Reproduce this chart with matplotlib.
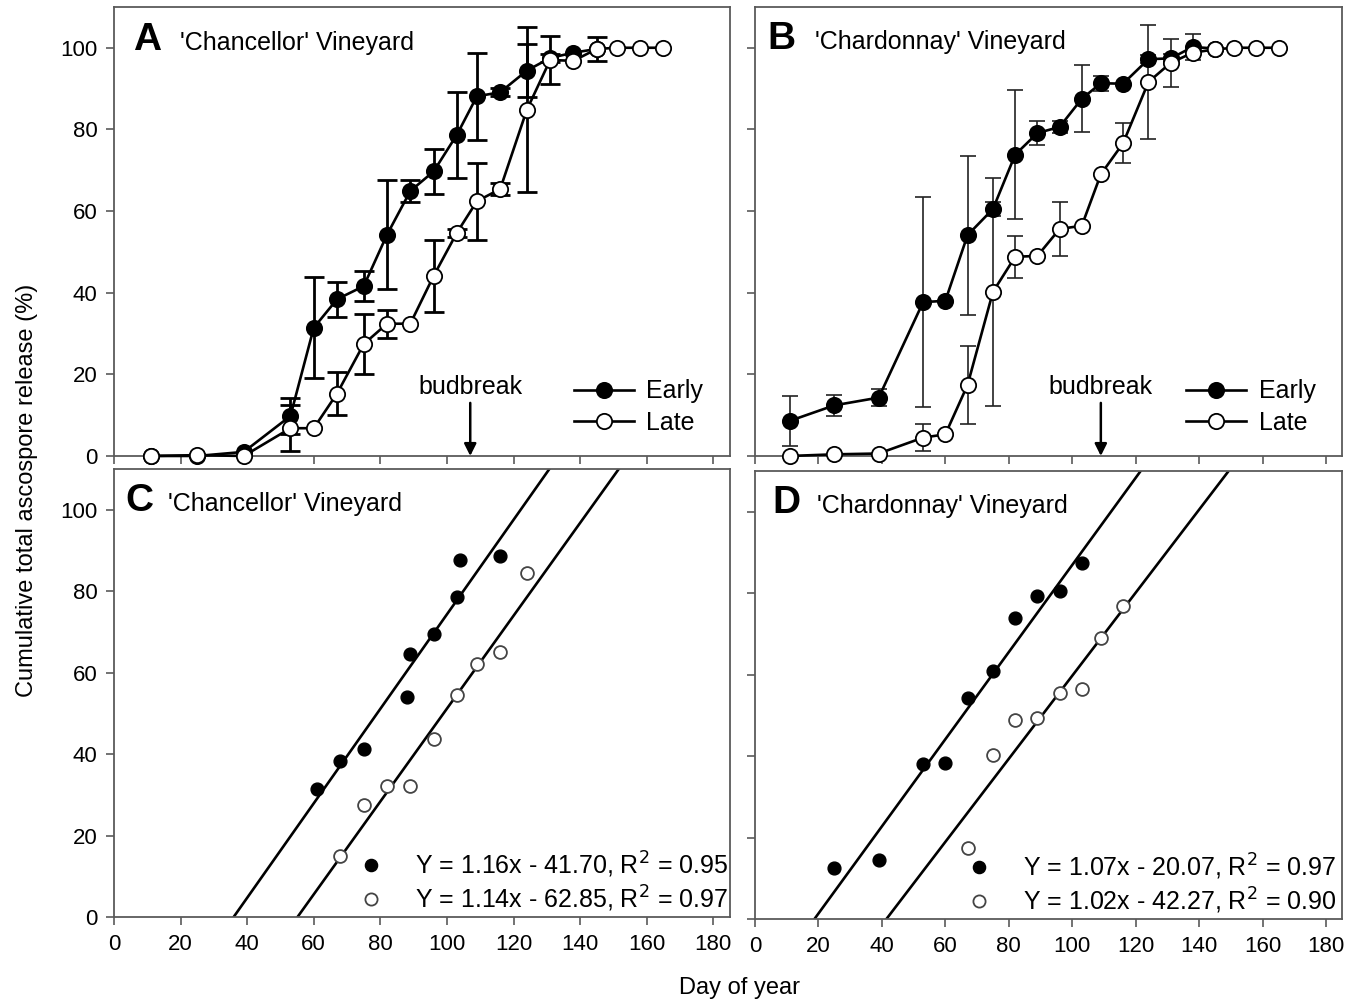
import numpy as np
import matplotlib
matplotlib.use("Agg")
from matplotlib import pyplot as plt

plt.rcParams['font.family'] = ['Liberation Sans', 'DejaVu Sans']

# sampling days (day of year)
days_early = [11, 25, 39, 53, 60, 67, 75, 82, 89, 96, 103, 109, 116, 124, 131, 138, 145]
days_late = [11, 25, 39, 53, 60, 67, 75, 82, 89, 96, 103, 109, 116, 124, 131, 138, 145, 151, 158, 165]

# A: Chancellor, cumulative release (%) and error
chan_early = [0, 0, 1.0, 9.8, 31.4, 38.4, 41.6, 54.2, 64.9, 69.7, 78.7, 88.1, 89.1, 94.4, 97.5, 98.8, 99.7]
chan_early_err = [0, 0, 0, 4.3, 12.4, 4.3, 3.6, 13.4, 2.6, 5.6, 10.5, 10.7, 1.0, 6.5, 1.0, 0.5, 0.5]
chan_late = [0, 0.2, 0, 6.8, 6.8, 15.3, 27.4, 32.4, 32.4, 44.1, 54.7, 62.4, 65.4, 84.8, 97.0, 96.8, 99.7, 100, 100, 100]
chan_late_err = [0, 0, 0, 5.7, 0, 5.3, 7.3, 3.4, 0, 8.8, 1.0, 9.4, 1.5, 20.2, 6.0, 0.5, 3.0, 0, 0, 0]

# B: Chardonnay
chard_early = [8.6, 12.4, 14.3, 37.7, 38.0, 54.1, 60.5, 73.8, 79.1, 80.6, 87.5, 91.3, 91.2, 97.2, 97.4, 100.2, 99.8]
chard_early_err = [6.2, 2.6, 2.0, 25.8, 0.5, 19.5, 1.6, 15.8, 3.0, 1.5, 8.2, 1.8, 0.5, 1.0, 1.0, 3.2, 0.5]
chard_late = [0, 0.4, 0.6, 4.5, 5.3, 17.4, 40.2, 48.8, 49.0, 55.6, 56.4, 69.0, 76.6, 91.6, 96.3, 98.8, 99.6, 100, 100, 100]
chard_late_err = [0, 0, 0, 3.3, 0.5, 9.6, 27.9, 5.2, 0, 6.5, 0.5, 0.5, 4.9, 14.0, 5.8, 0.5, 0.5, 0, 0, 0]

# C / D: points used in regressions
c_early_days = [61, 68, 75, 88, 89, 96, 103, 104, 116]
c_early_vals = [31.3, 38.3, 41.2, 54.0, 64.6, 69.4, 78.5, 87.7, 88.7]
c_late_days = [68, 75, 82, 89, 96, 103, 109, 116, 124]
c_late_vals = [15.0, 27.5, 32.2, 32.2, 43.8, 54.4, 62.2, 65.0, 84.5]
d_early_days = [25, 39, 53, 60, 67, 75, 82, 89, 96, 103]
d_early_vals = [12.5, 14.5, 38.0, 38.3, 54.3, 60.9, 73.8, 79.2, 80.5, 87.3]
d_late_days = [67, 75, 82, 89, 96, 103, 109, 116]
d_late_vals = [17.4, 40.2, 48.8, 49.4, 55.6, 56.5, 69.0, 76.8]

# regression coefficients (slope, intercept, R2)
c_fit_early = (1.16, -41.70, 0.95)
c_fit_late = (1.14, -62.85, 0.97)
d_fit_early = (1.07, -20.07, 0.97)
d_fit_late = (1.02, -42.27, 0.90)

budbreak_chan = 107
budbreak_chard = 109

SPINE = '#5a5a5a'

fig = plt.figure(figsize=(13.52, 10.05), dpi=100)
axA = fig.add_axes([0.0843, 0.5463, 0.4556, 0.4468])
axB = fig.add_axes([0.5584, 0.5463, 0.4342, 0.4468])
axC = fig.add_axes([0.0843, 0.0876, 0.4556, 0.4458])
axD = fig.add_axes([0.5584, 0.0856, 0.4342, 0.4458])

for ax in (axA, axB, axC, axD):
    ax.set_xlim(0, 185)
    ax.set_ylim(0, 110)
    ax.set_xticks(range(0, 181, 20))
    ax.set_yticks(range(0, 101, 20))
    for s in ax.spines.values():
        s.set_color(SPINE)
        s.set_linewidth(1.3)
    ax.tick_params(direction='out', length=6, width=1.2, color=SPINE,
                   labelsize=16, pad=6)

for ax in (axA, axB):
    ax.tick_params(labelbottom=False)
for ax in (axB, axD):
    ax.tick_params(labelleft=False)


def top_panel(ax, early, early_err, late, late_err, elw, ecol, cap):
    for d, v, e in ((days_early, early, early_err), (days_late, late, late_err)):
        d = np.array(d); v = np.array(v); e = np.array(e)
        m = e > 0.8
        ax.errorbar(d[m], v[m], yerr=e[m], fmt='none', ecolor=ecol,
                    elinewidth=elw, capsize=cap, capthick=elw, zorder=2)
    ax.plot(days_early, early, '-o', color='k', mfc='k', mec='k', ms=11,
            lw=1.9, mew=1.3, zorder=3, clip_on=False, label='Early')
    ax.plot(days_late, late, '-o', color='k', mfc='white', mec='k', ms=11,
            lw=1.9, mew=1.3, zorder=4, clip_on=False, label='Late')


top_panel(axA, chan_early, chan_early_err, chan_late, chan_late_err, 2.0, 'k', 7)
top_panel(axB, chard_early, chard_early_err, chard_late, chard_late_err, 1.2, '#222222', 6)

for ax, bb in ((axA, budbreak_chan), (axB, budbreak_chard)):
    ax.annotate('', xy=(bb, 0), xytext=(bb, 13),
                arrowprops=dict(arrowstyle='-|>', color='k', lw=1.8,
                                mutation_scale=18, shrinkA=0, shrinkB=0))
    ax.text(bb, 15.2, 'budbreak', ha='center', va='baseline', fontsize=18)
    ax.legend(loc='lower right', bbox_to_anchor=(0.985, 0.008), frameon=False,
              fontsize=18, handlelength=2.4, handletextpad=0.5, labelspacing=0.3,
              borderpad=0.2)


def bottom_panel(ax, ed, ev, ld, lv, fe, fl, xshift):
    x = np.array([0, 185])
    for slope, icpt, _ in (fe, fl):
        ax.plot(x, slope * x + icpt, color='k', lw=1.9, zorder=2)
    h1 = ax.scatter(ed, ev, s=85, c='k', zorder=3)
    h2 = ax.scatter(ld, lv, s=85, facecolors='white', edgecolors='#444444',
                    linewidths=1.3, zorder=3)
    labs = ['Y = %.2fx - %.2f, R$^2$ = %.2f' % (s, -i, r) for s, i, r in (fe, fl)]
    ax.legend([h1, h2], labs, loc='lower right', bbox_to_anchor=(xshift, -0.035),
              frameon=False, fontsize=18, handletextpad=0.76, labelspacing=0.15,
              borderpad=0.25, scatterpoints=1, scatteryoffsets=[0.5],
              markerscale=0.95)


bottom_panel(axC, c_early_days, c_early_vals, c_late_days, c_late_vals,
             c_fit_early, c_fit_late, 1.028)
bottom_panel(axD, d_early_days, d_early_vals, d_late_days, d_late_vals,
             d_fit_early, d_fit_late, 1.022)

panels = [(axA, 'A', "'Chancellor' Vineyard", 0.031, 0.107, 0.904),
          (axB, 'B', "'Chardonnay' Vineyard", 0.022, 0.102, 0.906),
          (axC, 'C', "'Chancellor' Vineyard", 0.019, 0.088, 0.906),
          (axD, 'D', "'Chardonnay' Vineyard", 0.029, 0.106, 0.906)]
for ax, letter, name, xl, xt, yb in panels:
    ax.text(xl, yb, letter, transform=ax.transAxes, fontsize=28,
            fontweight='bold', va='baseline', ha='left')
    ax.text(xt, yb, name, transform=ax.transAxes, fontsize=18,
            va='baseline', ha='left')

fig.text(0.02, 0.512, 'Cumulative total ascospore release (%)', rotation=90,
         ha='center', va='center', fontsize=17)
fig.text(0.547, 0.017, 'Day of year', ha='center', va='center', fontsize=17)

fig.savefig('out.png', dpi=100)
